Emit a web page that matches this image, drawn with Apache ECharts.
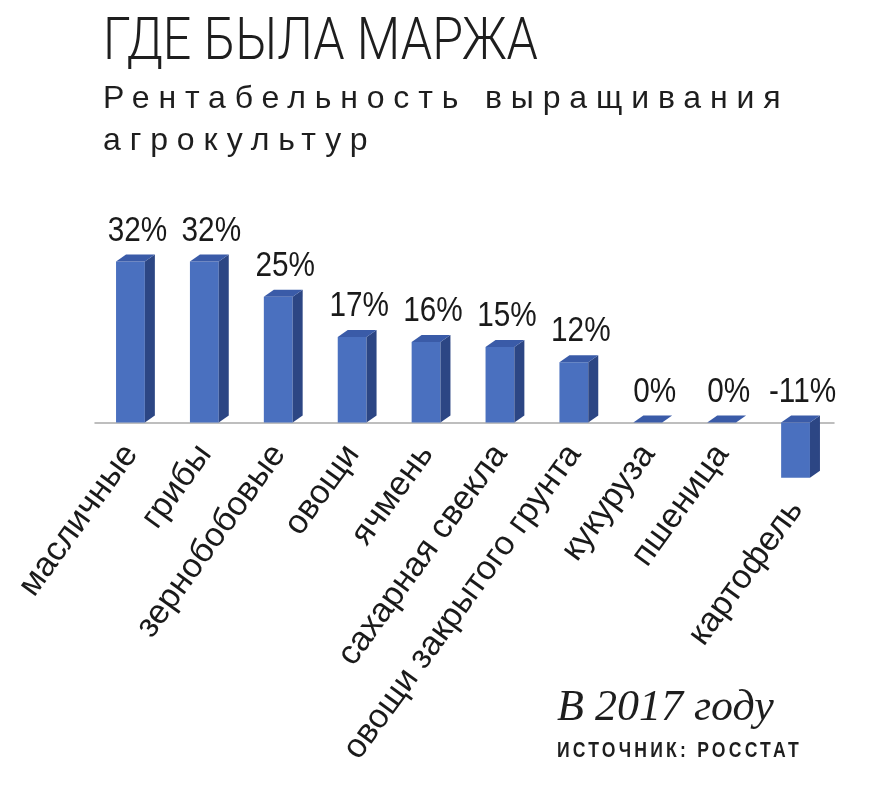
<!DOCTYPE html>
<html>
<head>
<meta charset="utf-8">
<script src="https://cdn.jsdelivr.net/npm/echarts@6/dist/echarts.min.js"></script>
<style>
  html, body { margin: 0; padding: 0; background: #ffffff; }
  #wrap { position: relative; width: 883px; height: 809px; }
  #chart { position: absolute; left: 0; top: 0; width: 883px; height: 809px; }
  .sub { position: absolute; left: 103px; font-family: "Liberation Sans", Arial, sans-serif;
         font-size: 32px; line-height: 32px; color: #1e1e1e; white-space: nowrap;
         transform-origin: 0 0; pointer-events: none; }
  #src { position: absolute; left: 557px; top: 739px; font-family: "Liberation Sans", Arial, sans-serif;
         font-weight: bold; font-size: 22px; line-height: 22px; color: #1e1e1e; white-space: nowrap;
         letter-spacing: 4px; transform: scaleX(0.8); transform-origin: 0 0; pointer-events: none; }
</style>
</head>
<body>
<div id="wrap">
  <div id="chart"></div>
  <div class="sub" id="sub1" style="top:81px; letter-spacing:8.85px;">Рентабельность выращивания</div>
  <div class="sub" id="sub2" style="top:123px; letter-spacing:8.85px;">агрокультур</div>
  <div id="src">ИСТОЧНИК: РОССТАТ</div>
</div>
<script>
const titleText = 'ГДЕ БЫЛА МАРЖА';
const noteText = 'В 2017 году';
const categories = ['масличные', 'грибы', 'зернобобовые', 'овощи', 'ячмень',
  'сахарная свекла', 'овощи закрытого грунта', 'кукуруза', 'пшеница', 'картофель'];
const values = [32, 32, 25, 17, 16, 15, 12, 0, 0, -11];
const valueLabels = ['32%', '32%', '25%', '17%', '16%', '15%', '12%', '0%', '0%', '-11%'];

const FRONT = '#4a70bf';
const SIDE = '#2c4684';
const TOP = '#3a5ba8';

function renderItem(params, api) {
  const idx = api.value(0);
  const v = api.value(1);
  const base = api.coord([idx, 0]);
  const end = api.coord([idx, v]);
  const band = api.size([1, 0])[0];
  const w = band * 0.39;
  const dx = 10, dy = 7;
  const cx = base[0] - 1.5;
  const x0 = cx - w / 2, x1 = cx + w / 2;
  const yT = Math.min(base[1], end[1]);
  const yB = Math.max(base[1], end[1]);
  const children = [];
  if (yB - yT > 0.5) {
    children.push({ type: 'rect', shape: { x: x0, y: yT, width: w, height: yB - yT },
      style: { fill: FRONT } });
    children.push({ type: 'polygon', shape: { points: [[x1, yT], [x1 + dx, yT - dy], [x1 + dx, yB - dy], [x1, yB]] },
      style: { fill: SIDE } });
  }
  children.push({ type: 'polygon', shape: { points: [[x0, yT], [x1, yT], [x1 + dx, yT - dy], [x0 + dx, yT - dy]] },
    style: { fill: TOP } });
  // value label
  children.push({ type: 'text', x: cx + 7, y: yT - dy - 6, scaleX: 0.85,
    style: { text: valueLabels[idx], font: '35px "Liberation Sans", Arial, sans-serif',
      fill: '#1a1a1a', align: 'center', verticalAlign: 'bottom' } });
  // category label
  children.push({ type: 'text', x: base[0] - 1, y: yB + 26, rotation: 54 * Math.PI / 180,
    style: { text: categories[idx], font: '34px "Liberation Sans", Arial, sans-serif',
      fill: '#1a1a1a', align: 'right', verticalAlign: 'middle' } });
  return { type: 'group', children: children };
}

const chart = echarts.init(document.getElementById('chart'), null, { renderer: 'canvas' });
chart.setOption({
  animation: false,
  backgroundColor: '#ffffff',
  grid: { left: 95, right: 49, top: 221.3, bottom: 285.9, containLabel: false },
  xAxis: {
    type: 'category', data: categories,
    axisLine: { show: true, lineStyle: { color: '#a9a9a9', width: 1.5 } },
    axisTick: { show: false }, axisLabel: { show: false }, splitLine: { show: false }
  },
  yAxis: { type: 'value', min: -20, max: 40, show: false, splitLine: { show: false } },
  graphic: [
    { type: 'text', x: 103, y: 74, scaleX: 0.837,
      style: { text: titleText, font: '300 60px Roboto, "Liberation Sans", sans-serif',
        fill: '#1e1e1e', align: 'left', verticalAlign: 'bottom' } },
    { type: 'text', x: 557, y: 730,
      style: { text: noteText, font: 'italic 44px "Liberation Serif", "Times New Roman", serif',
        fill: '#1e1e1e', align: 'left', verticalAlign: 'bottom' } }
  ],
  series: [{
    type: 'custom',
    renderItem: renderItem,
    clip: false,
    data: values.map((v, i) => [i, v])
  }]
});
</script>
</body>
</html>
